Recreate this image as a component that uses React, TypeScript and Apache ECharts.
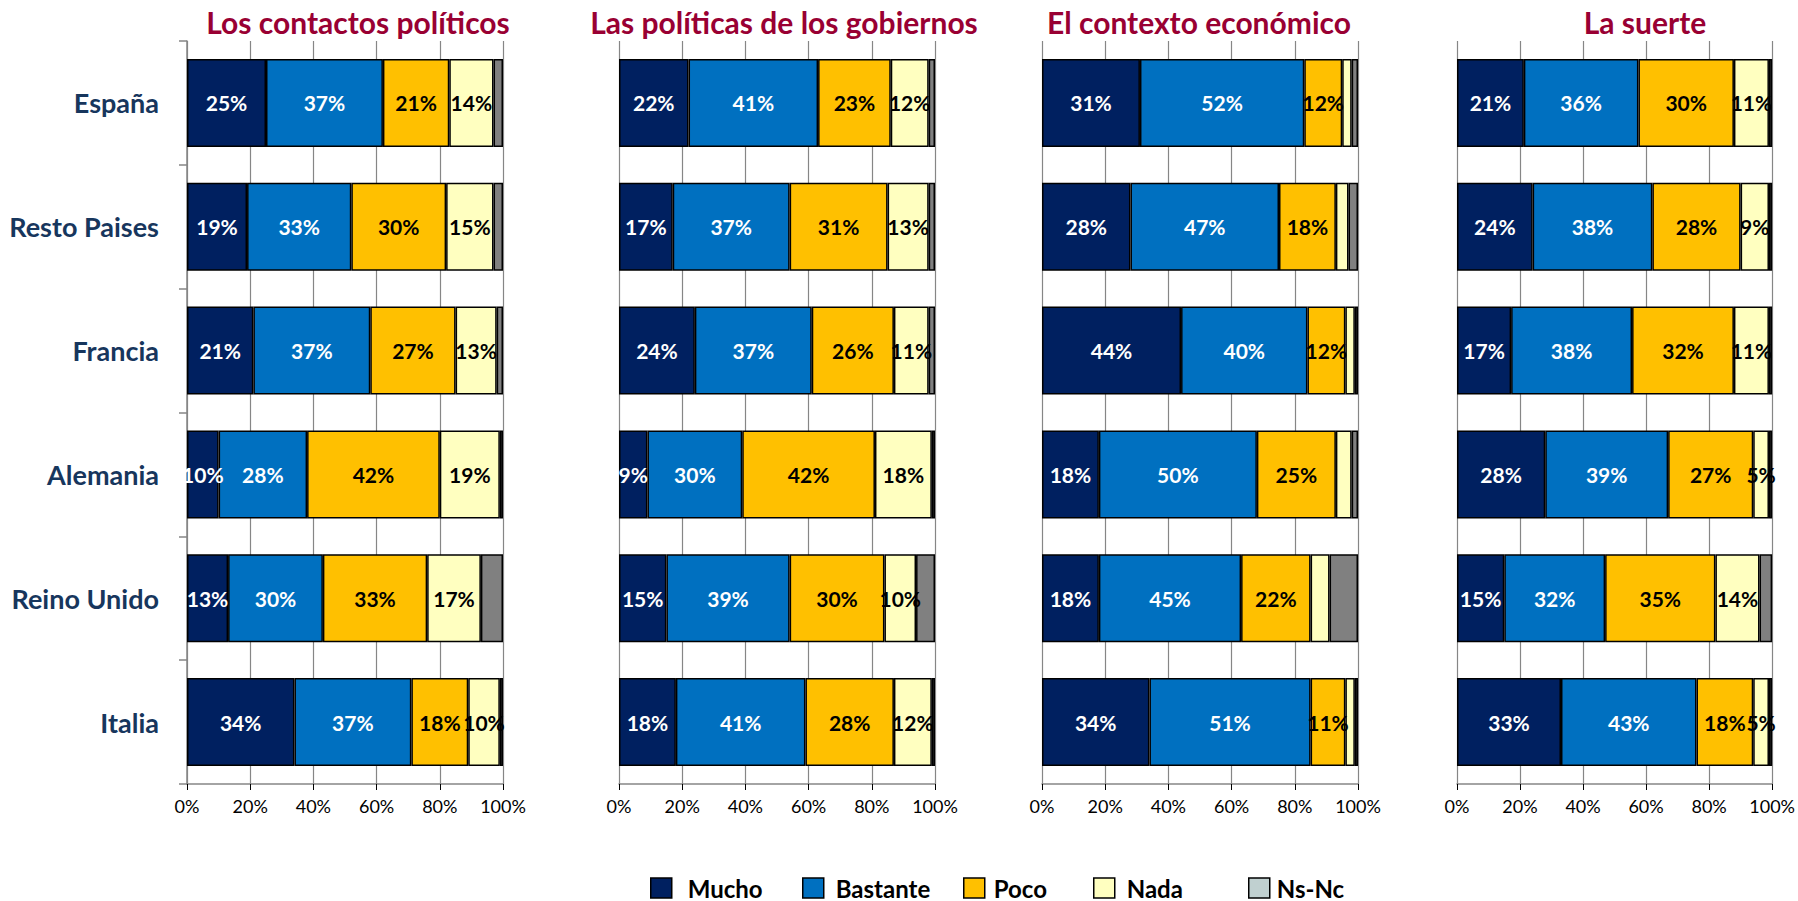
import React, { useEffect, useRef } from "react";
import * as echarts from "echarts";

const countries = ["España", "Resto Paises", "Francia", "Alemania", "Reino Unido", "Italia"];
const seriesNames = ["Mucho", "Bastante", "Poco", "Nada", "Ns-Nc"];
const seriesColors = ["#002060", "#0070C0", "#FFC000", "#FFFFC0", "#808080"];
const legendColors = ["#002060", "#0070C0", "#FFC000", "#FFFFC0", "#C0D0D0"];
const labelColors = ["#FFFFFF", "#FFFFFF", "#000000", "#000000", "#000000"];
const panelTitles = [
  "Los contactos políticos",
  "Las políticas de los gobiernos",
  "El contexto económico",
  "La suerte",
];

// each inner array: one answer, values per country (España … Italia)
const contactos = [
  [25, 19, 21, 10, 13, 34],
  [37, 33, 37, 28, 30, 37],
  [21, 30, 27, 42, 33, 18],
  [14, 15, 13, 19, 17, 10],
  [3, 3, 2, 1, 7, 1],
];
const politicas = [
  [22, 17, 24, 9, 15, 18],
  [41, 37, 37, 30, 39, 41],
  [23, 31, 26, 42, 30, 28],
  [12, 13, 11, 18, 10, 12],
  [2, 2, 2, 1, 6, 1],
];
const economico = [
  [31, 28, 44, 18, 18, 34],
  [52, 47, 40, 50, 45, 51],
  [12, 18, 12, 25, 22, 11],
  [3, 4, 3, 5, 6, 3],
  [2, 3, 1, 2, 9, 1],
];
const suerte = [
  [21, 24, 17, 28, 15, 33],
  [36, 38, 38, 39, 32, 43],
  [30, 28, 32, 27, 35, 18],
  [11, 9, 11, 5, 14, 5],
  [1, 1, 1, 1, 4, 1],
];
const panelData = [contactos, politicas, economico, suerte];
// which answers carry a visible label in each panel
const labelShown = [
  [true, true, true, true, false],
  [true, true, true, true, false],
  [true, true, true, false, false],
  [true, true, true, true, false],
];

const gridLefts = [187, 619, 1042, 1457];
const titleCenters = [358, 784, 1199, 1645];
const legendLefts = [650, 802, 963, 1093, 1248];
const legendTextPad = [11, 7, 4, 7, 2];

const FONT = "Lato, 'Open Sans', sans-serif";

export default function App() {
  const ref = useRef<HTMLDivElement>(null);
  useEffect(() => {
    if (!ref.current) return;
    const chart = echarts.init(ref.current, undefined, { renderer: "svg" });

    const grids = gridLefts.map((left) => ({ left, width: 316, top: 41, height: 743 }));
    const xAxes = gridLefts.map((_, i) => ({
      type: "value",
      gridIndex: i,
      min: 0,
      max: 100,
      interval: 20,
      axisLabel: {
        formatter: "{value}%",
        fontSize: 18,
        fontFamily: FONT,
        color: "#000",
        margin: 13,
      },
      axisLine: { show: true, lineStyle: { color: "#868686", width: 1.5 } },
      axisTick: { show: true, length: 6, lineStyle: { color: "#000" } },
      splitLine: { show: true, lineStyle: { color: "#868686", width: 1.2 } },
    }));
    const yAxes = gridLefts.map((_, i) => ({
      type: "category",
      gridIndex: i,
      inverse: true,
      data: countries,
      axisLine: { show: i === 0, lineStyle: { color: "#868686", width: 1.5 } },
      axisTick: { show: i === 0, length: 8, lineStyle: { color: "#868686", width: 1.5 } },
      axisLabel: {
        show: i === 0,
        fontSize: 27,
        fontWeight: "bold",
        fontFamily: FONT,
        color: "#17365D",
        margin: 28,
      },
    }));

    const series: any[] = [];
    panelData.forEach((panel, i) => {
      const totals = countries.map((_, k) => panel.reduce((s, row) => s + row[k], 0));
      panel.forEach((row, j) => {
        series.push({
          type: "bar",
          name: seriesNames[j],
          xAxisIndex: i,
          yAxisIndex: i,
          stack: "p" + i,
          barCategoryGap: "29%",
          itemStyle: { color: seriesColors[j], borderColor: "#000", borderWidth: 1.5 },
          label: {
            show: labelShown[i][j],
            position: "inside",
            color: labelColors[j],
            fontSize: 21,
            fontWeight: "bold",
            fontFamily: FONT,
            formatter: (p: any) => p.data.raw + "%",
          },
          data: row.map((v, k) => ({ value: (v / totals[k]) * 100, raw: v })),
        });
      });
    });

    chart.setOption({
      animation: false,
      backgroundColor: "#fff",
      title: panelTitles.map((t, i) => ({
        text: t,
        left: titleCenters[i],
        top: 7,
        textAlign: "center",
        padding: 0,
        textStyle: { color: "#990033", fontSize: 30, fontWeight: "bold", fontFamily: FONT },
      })),
      grid: grids,
      xAxis: xAxes,
      yAxis: yAxes,
      legend: seriesNames.map((n, j) => ({
        data: [{ name: n, itemStyle: { color: legendColors[j], borderColor: "#000", borderWidth: 1.5 } }],
        left: legendLefts[j],
        top: 876,
        padding: 0,
        itemWidth: 21,
        itemHeight: 20,
        icon: "rect",
        selectedMode: false,
        textStyle: {
          fontSize: 24,
          lineHeight: 22,
          fontWeight: "bold",
          fontFamily: FONT,
          color: "#000",
          padding: [0, 0, 0, legendTextPad[j]],
        },
      })),
      series,
    });
    return () => chart.dispose();
  }, []);
  return (
    <div
      ref={ref}
      style={{ position: "absolute", left: 0, top: 0, width: 1798, height: 901, background: "#fff" }}
    />
  );
}
